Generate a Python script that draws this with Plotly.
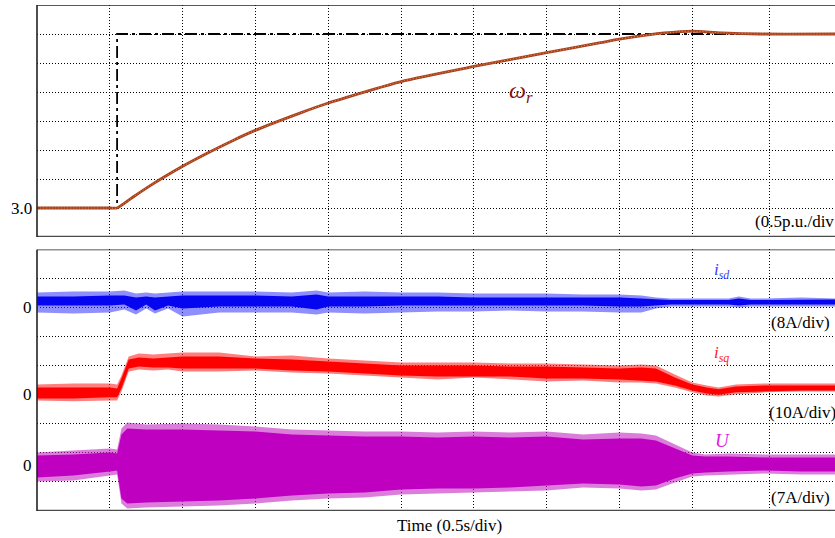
import plotly.graph_objects as go

# ---------------- data ----------------
# top panel: rotor speed (p.u.) and its reference
REF_T = [0.0, 0.55, 0.55, 5.48]
REF_V = [3.0, 3.0, 6.0, 6.0]
WR_T = [0.0, 0.5, 0.55, 0.66, 0.78, 0.89, 1.0, 1.165, 1.35, 1.49, 1.81, 2.0, 2.5, 3.0, 3.5, 3.87, 4.0, 4.21, 4.42, 4.5, 4.7, 4.97, 5.48]
WR_V = [3.0, 3.0, 3.0, 3.19, 3.39, 3.56, 3.72, 3.94, 4.17, 4.33, 4.64, 4.81, 5.18, 5.44, 5.68, 5.85, 5.91, 5.99, 6.04, 6.05, 6.02, 6.0, 6.0]

# bottom panel: envelopes (A) of noisy traces
SD_T = [0, 0.25, 0.5, 0.6, 0.68, 0.75, 0.81, 0.9, 1.0, 1.25, 1.5, 1.75, 1.92, 2.0, 2.25, 2.5, 2.75, 3.0, 3.25, 3.5, 3.75, 4.0, 4.15, 4.25, 4.35, 4.5, 4.75, 4.82, 4.9, 5.0, 5.25, 5.48]
SD_OUT_HI = [4.18, 4.46, 4.46, 4.73, 3.91, 4.18, 3.91, 4.18, 4.46, 4.46, 4.46, 4.18, 4.73, 4.18, 4.46, 4.18, 4.18, 3.91, 3.91, 3.91, 3.63, 3.63, 3.36, 2.81, 2.53, 2.53, 2.53, 3.08, 2.53, 2.53, 2.81, 2.53]
SD_OUT_LO = [-1.32, -1.60, -1.32, -0.50, -1.87, -0.22, -1.60, -0.22, -2.42, -1.32, -1.32, -1.32, -1.87, -1.32, -1.60, -1.32, -1.05, -1.05, -0.77, -1.05, -1.05, -1.32, -1.32, -0.22, 0.33, 0.33, 0.33, 0.06, 0.33, 0.33, 0.33, 0.33]
SD_CORE_HI = [3.08, 3.08, 3.36, 3.36, 2.81, 3.08, 2.81, 3.08, 3.36, 3.36, 3.36, 3.08, 3.63, 3.08, 3.08, 3.08, 3.08, 2.81, 2.81, 2.81, 2.81, 2.81, 2.53, 2.26, 2.12, 2.12, 2.12, 2.53, 2.12, 2.12, 2.26, 2.26]
SD_CORE_LO = [0.61, 0.61, 0.61, 0.88, -0.77, 0.88, -0.77, 0.61, -0.22, 0.33, 0.33, 0.33, -0.50, 0.33, 0.33, 0.61, 0.61, 0.61, 0.61, 0.61, 0.61, 0.33, 0.33, 0.61, 0.88, 0.88, 0.88, 0.61, 0.88, 0.88, 0.88, 0.88]

SQ_T = [0, 0.25, 0.5, 0.55, 0.58, 0.63, 0.7, 0.8, 0.9, 1.0, 1.25, 1.5, 1.75, 2.0, 2.25, 2.5, 2.75, 3.0, 3.25, 3.5, 3.75, 4.0, 4.15, 4.25, 4.38, 4.5, 4.6, 4.68, 4.8, 5.0, 5.25, 5.48]
SQ_OUT_HI = [3.58, 3.92, 3.92, 3.58, 6.67, 13.20, 14.24, 13.89, 14.24, 14.58, 14.58, 13.20, 13.55, 12.52, 11.83, 11.14, 11.14, 11.14, 10.80, 10.80, 10.45, 10.11, 10.45, 10.11, 7.02, 4.26, 3.23, 2.54, 3.58, 3.92, 3.92, 3.92]
SQ_OUT_LO = [-1.93, -2.27, -1.93, -1.93, 1.17, 8.05, 8.73, 8.39, 8.73, 8.05, 8.05, 8.39, 7.70, 7.36, 6.67, 5.98, 5.30, 5.98, 5.30, 4.61, 4.95, 4.26, 4.26, 3.92, 2.54, 0.83, -0.21, -0.55, 0.14, 0.83, 1.17, 1.17]
SQ_CORE_HI = [2.54, 2.54, 2.54, 2.20, 5.64, 12.17, 12.86, 12.52, 12.86, 13.20, 13.20, 12.52, 12.17, 11.49, 10.80, 10.11, 10.11, 10.11, 9.77, 9.77, 9.42, 9.08, 9.42, 9.08, 5.98, 3.58, 2.54, 1.86, 2.89, 3.23, 3.23, 3.23]
SQ_CORE_LO = [-1.24, -1.24, -0.89, -0.89, 2.20, 9.08, 9.77, 9.42, 9.42, 9.08, 9.08, 9.08, 8.39, 8.05, 7.36, 6.67, 6.33, 6.33, 6.33, 5.64, 5.64, 5.30, 4.95, 4.61, 3.23, 1.51, 0.48, -0.03, 0.83, 1.17, 1.51, 1.51]

U_T = [0, 0.25, 0.5, 0.55, 0.58, 0.62, 0.75, 1.0, 1.25, 1.5, 1.75, 2.0, 2.25, 2.5, 2.75, 3.0, 3.25, 3.5, 3.75, 4.0, 4.15, 4.25, 4.38, 4.5, 4.59, 4.75, 5.0, 5.25, 5.48]
U_OUT_HI = [3.25, 3.73, 4.21, 3.97, 9.03, 10.47, 9.99, 10.23, 9.99, 9.51, 8.79, 8.55, 8.31, 8.31, 8.06, 8.31, 8.06, 8.31, 7.58, 8.06, 7.82, 7.34, 5.18, 3.25, 2.77, 3.01, 2.77, 2.77, 2.77]
U_OUT_LO = [-3.73, -3.49, -2.29, -2.05, -9.03, -10.23, -9.99, -9.75, -9.51, -9.03, -8.31, -7.82, -7.58, -6.86, -6.62, -6.38, -6.14, -5.90, -5.18, -5.42, -5.90, -5.66, -3.97, -2.53, -2.29, -2.05, -1.81, -2.05, -2.05]
U_CORE_HI = [2.53, 2.77, 3.25, 3.01, 7.58, 9.03, 8.79, 8.79, 8.55, 8.31, 7.58, 7.34, 7.10, 7.10, 6.86, 7.10, 6.86, 7.10, 6.38, 6.62, 6.62, 6.14, 4.21, 2.53, 2.29, 2.29, 2.05, 2.05, 2.05]
U_CORE_LO = [-2.77, -2.29, -1.32, -1.08, -7.82, -9.03, -8.79, -8.55, -8.31, -7.82, -7.10, -6.62, -6.38, -5.66, -5.42, -5.42, -5.18, -4.69, -4.21, -4.45, -4.93, -4.69, -3.01, -1.81, -1.56, -1.32, -1.08, -1.32, -1.32]

# scope channel settings: (zero position in divisions, A per division)
SD_ZERO, SD_SCALE = 7.0, 8.0
SQ_ZERO, SQ_SCALE = 4.0, 10.0
U_ZERO, U_SCALE = 1.55, 7.0

TIME_GRID = [0.5, 1.0, 1.5, 2.0, 2.5, 3.0, 3.5, 4.0, 4.5, 5.03]
TOP_GRID = [3.0, 3.5, 4.0, 4.5, 5.0, 5.5, 6.0]
BOT_GRID = [1, 2, 3, 4, 5, 6, 7, 8]

SERIF = "Liberation Serif, Times New Roman, serif"

def to_div(vals, zero, scale):
    return [zero + v / scale for v in vals]

fig = go.Figure()

# ---- top panel ----
fig.add_trace(go.Scatter(x=REF_T, y=REF_V, mode="lines", xaxis="x", yaxis="y",
                         line=dict(color="black", width=1.8, dash="12px,4px,3px,4px"), hoverinfo="skip"))
fig.add_trace(go.Scatter(x=WR_T, y=WR_V, mode="lines", xaxis="x", yaxis="y",
                         line=dict(color="#a8401c", width=2.8, shape="spline", smoothing=0.6), hoverinfo="skip"))
fig.add_trace(go.Scatter(x=WR_T, y=WR_V, mode="lines", xaxis="x", yaxis="y",
                         line=dict(color="#e0935a", width=1, dash="1px,2px", shape="spline", smoothing=0.6),
                         hoverinfo="skip"))

# ---- bottom panel bands ----
def band(t, lo, hi, zero, scale, color):
    fig.add_trace(go.Scatter(x=t, y=to_div(lo, zero, scale), mode="lines", xaxis="x2", yaxis="y2",
                             line=dict(width=0, color=color), hoverinfo="skip"))
    fig.add_trace(go.Scatter(x=t, y=to_div(hi, zero, scale), mode="lines", xaxis="x2", yaxis="y2",
                             line=dict(width=0, color=color), fill="tonexty", fillcolor=color, hoverinfo="skip"))

band(SD_T, SD_OUT_LO, SD_OUT_HI, SD_ZERO, SD_SCALE, "rgba(50,50,250,0.55)")
band(SD_T, SD_CORE_LO, SD_CORE_HI, SD_ZERO, SD_SCALE, "#0505f0")
band(SQ_T, SQ_OUT_LO, SQ_OUT_HI, SQ_ZERO, SQ_SCALE, "rgba(255,40,40,0.6)")
band(SQ_T, SQ_CORE_LO, SQ_CORE_HI, SQ_ZERO, SQ_SCALE, "#ff0000")
band(U_T, U_OUT_LO, U_OUT_HI, U_ZERO, U_SCALE, "rgba(195,40,195,0.6)")
band(U_T, U_CORE_LO, U_CORE_HI, U_ZERO, U_SCALE, "#c000c0")

grid = dict(showgrid=True, gridcolor="black", gridwidth=1, griddash="1px,2px",
            zeroline=False, showticklabels=False, ticks="", showline=False)

fig.update_layout(
    width=835, height=538,
    margin=dict(l=37, r=0, t=5, b=27),
    paper_bgcolor="white", plot_bgcolor="white",
    showlegend=False,
    xaxis=dict(domain=[0, 1], anchor="y", range=[0, 5.48], tickvals=TIME_GRID, **grid),
    yaxis=dict(domain=[0.5415, 1], anchor="x", range=[2.5, 6.5], tickvals=TOP_GRID, **grid),
    xaxis2=dict(domain=[0, 1], anchor="y2", range=[0, 5.48], tickvals=TIME_GRID, **grid),
    yaxis2=dict(domain=[0, 0.5168], anchor="x2", range=[0, 9], tickvals=BOT_GRID, **grid),
)

# borders (left, top, bottom)
def borders(yref, ylo, yhi):
    fig.add_shape(type="line", xref="paper", yref=yref, x0=0, x1=1, y0=yhi, y1=yhi,
                  line=dict(color="#222", width=1.6), layer="above")
    fig.add_shape(type="line", xref="paper", yref=yref, x0=0, x1=1, y0=ylo, y1=ylo,
                  line=dict(color="#4a4a4a", width=2.6), layer="above")
    fig.add_shape(type="line", xref="paper", yref=yref, x0=0, x1=0, y0=ylo, y1=yhi,
                  line=dict(color="#222", width=1.6), layer="above")

borders("y", 2.5, 6.5)
borders("y2", 0, 9)

def ann(text, x, y, xref, yref, size, color="black", xanchor="center", yanchor="middle", xshift=0, yshift=0):
    fig.add_annotation(text=text, x=x, y=y, xref=xref, yref=yref, showarrow=False,
                       font=dict(family=SERIF, size=size, color=color),
                       xanchor=xanchor, yanchor=yanchor, xshift=xshift, yshift=yshift)

ann("3.0", 0, 3.0, "paper", "y", 17, xanchor="right", xshift=-3)
ann("0", 0, SD_ZERO, "paper", "y2", 17, xanchor="right", xshift=-3)
ann("0", 0, SQ_ZERO, "paper", "y2", 17, xanchor="right", xshift=-3)
ann("0", 0, U_ZERO, "paper", "y2", 17, xanchor="right", xshift=-3)

ann("<i>ω</i><sub><i>r</i></sub>", 3.23, 5.0, "x", "y", 24, color="#8b1010", xanchor="left")
ann("(0.5p.u./div", 4.92, 2.77, "x", "y", 17, xanchor="left")

ann("<i>i</i><sub><i>sd</i></sub>", 4.70, 8.25, "x2", "y2", 17, color="#3a3aff")
ann("(8A/div)", 5.03, 6.49, "x2", "y2", 17, xanchor="left")
ann("<i>i</i><sub><i>sq</i></sub>", 4.70, 5.39, "x2", "y2", 17, color="#ff2020")
ann("(10A/div)", 5.01, 3.39, "x2", "y2", 17, xanchor="left")
ann("<i>U</i>", 4.71, 2.41, "x2", "y2", 19, color="#e020e0")
ann("(7A/div)", 5.03, 0.46, "x2", "y2", 17, xanchor="left")

ann("Time (0.5s/div)", 0.5175, 0, "paper", "paper", 17, yanchor="middle", yshift=-14)

fig.write_html("out.html")
